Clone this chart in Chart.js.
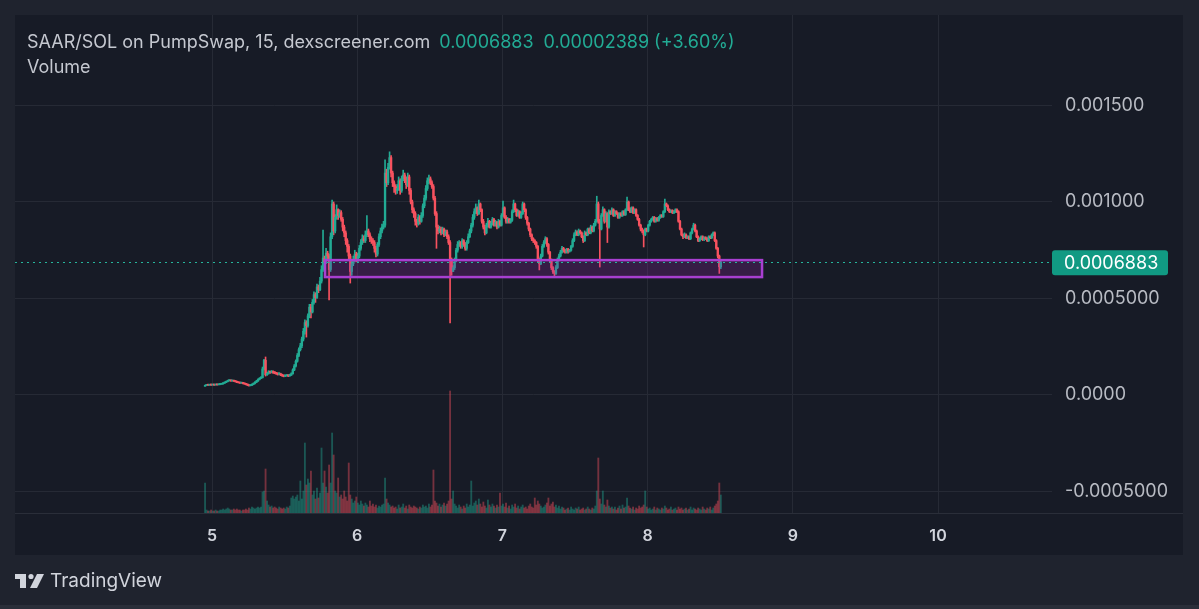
<!DOCTYPE html>
<html lang="en">
<head>
<meta charset="UTF-8">
<title>SAAR/SOL on PumpSwap</title>
<script src="https://cdn.jsdelivr.net/npm/chart.js"></script>
<style>
  html, body { margin: 0; padding: 0; background: #1f232e; }
  canvas { display: block; }
</style>
</head>
<body>
<canvas id="chart" width="1199" height="609"></canvas>
<script>
// 15 minute candles; prices are listed in millionths of SOL
const PRICE_UNIT = 1e-6;
const firstCandleDay = 4.952;
const candleStep = 1 / 96;
const firstOpen = 50;

const closes = [
  50,52,51,53,52,53,52,54,53,55,
  56,58,62,66,70,74,76,73,75,72,
  70,66,64,62,63,60,58,55,52,49,
  50,55,60,66,72,80,86,90,135,180,
  105,112,120,118,122,117,115,112,108,110,
  104,100,98,100,101,99,103,110,130,150,
  175,205,235,255,290,330,375,360,410,455,
  430,480,520,505,560,545,590,650,710,690,
  735,720,650,820,990,850,920,960,930,945,
  910,870,840,800,770,720,640,680,700,730,
  700,720,760,790,810,800,830,850,830,810,
  800,790,760,730,780,820,850,870,880,1150,
  1100,1180,1230,1150,1100,1080,1060,1070,1110,1060,
  1120,1140,1120,1090,1130,1060,1000,960,940,900,
  890,920,900,930,980,1020,1070,1110,1120,1100,
  1080,1020,940,870,850,860,840,860,830,845,
  820,790,700,640,660,700,750,780,790,770,
  800,780,760,790,820,850,880,920,950,970,
  940,990,960,900,870,840,880,900,870,890,
  910,880,895,870,900,880,930,970,920,900,
  910,895,905,950,990,960,930,950,920,940,
  990,960,920,890,860,830,810,800,790,770,
  700,680,720,770,790,810,780,740,700,660,
  640,630,660,700,720,740,760,750,740,755,
  745,750,770,800,830,845,830,850,840,820,
  800,840,830,860,840,870,850,880,900,990,
  900,860,930,960,900,940,870,950,940,960,
  930,950,940,920,940,930,950,935,960,1000,
  960,950,970,945,960,930,910,880,860,850,
  830,860,850,880,900,910,920,900,915,905,
  920,930,925,950,990,980,960,950,955,945,
  950,960,950,900,860,830,820,830,815,820,
  810,840,860,880,850,820,800,810,820,805,
  815,810,800,820,815,830,840,800,760,720,
  664.4,688.3
];

const highs = [
  52,54,53,55,54,55,54,56,55,57,
  58,60,64,68,72,77,79,78,77,76,
  74,72,68,66,65,65,62,60,57,54,
  53,58,63,69,76,84,90,95,145,185,
  197,118,126,124,127,125,121,118,115,116,
  113,108,104,104,106,105,108,115,136,158,
  182,215,245,268,300,345,390,385,420,470,
  470,495,535,530,575,570,610,670,855,720,
  760,745,730,840,1010,1000,935,985,965,960,
  955,920,880,850,810,780,730,700,720,750,
  740,735,775,805,830,825,850,930,860,840,
  820,810,800,770,790,835,865,885,900,1218,
  1170,1200,1260,1240,1160,1110,1090,1090,1130,1120,
  1135,1165,1150,1130,1150,1140,1070,1010,970,950,
  910,935,930,945,990,1035,1085,1125,1140,1130,
  1110,1090,1030,950,880,875,870,870,865,855,
  855,830,800,710,670,710,760,795,800,795,
  810,805,790,800,835,860,890,935,965,990,
  975,1010,995,965,910,880,890,915,905,900,
  920,915,905,900,910,905,940,1005,975,930,
  920,915,915,960,1010,995,965,960,955,950,
  1000,995,965,925,895,865,835,815,805,795,
  775,710,730,780,800,820,815,785,745,705,
  665,645,670,710,730,750,770,765,755,760,
  760,755,775,810,840,855,850,860,855,845,
  825,850,845,865,865,880,875,890,910,1030,
  1000,910,940,975,965,950,945,960,955,970,
  965,955,955,945,945,945,955,955,965,1025,
  1005,970,975,975,965,965,935,915,885,865,
  855,865,865,885,905,915,925,925,920,920,
  925,935,935,955,1015,995,985,965,960,960,
  955,965,965,955,905,865,835,840,835,825,
  825,845,865,890,885,855,825,815,825,825,
  820,820,815,825,825,835,845,845,805,765,
  725,695
];

const lows = [
  47,49,49,50,50,51,50,51,51,52,
  53,55,56,60,64,68,72,71,71,70,
  67,64,62,60,60,58,55,52,48,46,
  47,49,53,58,64,70,78,84,88,130,
  98,102,108,112,114,112,110,106,103,104,
  100,96,94,95,97,95,97,101,108,126,
  145,170,198,228,245,280,315,300,352,400,
  400,425,470,480,500,530,540,580,640,660,
  680,700,492,640,810,830,840,910,910,920,
  900,850,820,780,740,700,580,620,670,690,
  690,690,710,750,780,790,790,820,820,795,
  785,775,740,715,720,770,810,840,860,870,
  1080,1090,1170,1130,1080,1050,1040,1045,1060,1040,
  1050,1110,1100,1070,1080,1040,990,945,920,880,
  870,880,885,895,920,970,1010,1060,1095,1090,
  1070,1010,930,760,835,840,830,835,820,825,
  810,780,373,620,640,650,690,740,770,760,
  760,770,750,750,785,815,840,870,910,940,
  930,935,950,890,860,830,835,870,865,865,
  880,875,875,860,865,875,875,925,915,890,
  890,890,890,900,945,950,925,925,915,915,
  935,950,910,880,850,820,800,790,780,760,
  690,648,675,715,765,785,770,730,690,650,
  630,615,625,655,695,715,735,740,735,735,
  735,740,745,765,795,825,825,825,835,815,
  790,795,825,825,835,835,845,845,875,895,
  890,663,855,925,890,895,790,865,935,935,
  925,925,935,915,915,925,925,930,930,955,
  955,945,945,940,940,925,905,875,850,840,
  767,825,845,845,875,895,905,895,895,900,
  900,915,920,920,945,975,955,945,945,940,
  940,945,945,895,855,825,810,815,810,810,
  805,805,835,855,845,815,795,795,805,800,
  800,805,795,795,810,810,825,795,755,710,
  630,655
];

// relative traded volume per candle
const volumes = [
  30,3,2,2,3,2,2,3,2,2,
  3,3,4,3,4,5,4,3,3,4,
  3,4,3,3,2,3,3,4,3,5,
  4,6,5,4,5,6,5,6,21,22,
  44,12,8,6,7,5,6,5,4,6,
  5,4,5,4,6,5,7,15,17,14,
  16,18,12,32,14,22,70,28,34,30,
  42,18,22,14,25,15,20,65,30,42,
  26,20,48,30,80,58,22,20,35,16,
  18,14,22,16,12,50,18,14,10,12,
  16,10,8,12,9,7,10,8,6,12,
  7,9,6,8,5,7,6,8,9,35,
  14,10,8,6,7,5,6,4,8,5,
  6,9,5,7,4,8,6,5,7,6,
  5,4,6,5,8,6,7,5,9,6,
  8,43,12,10,7,9,6,8,10,7,
  9,12,122,14,22,9,7,5,8,6,
  4,7,5,9,6,8,32,7,10,12,
  8,14,9,6,11,7,5,13,8,6,
  9,7,5,8,6,20,7,9,6,10,
  5,7,4,8,6,9,5,7,4,6,
  8,5,6,4,7,9,6,5,15,8,
  12,9,7,5,6,8,10,15,7,9,
  11,6,8,5,7,4,6,5,3,4,
  5,3,6,4,3,5,4,6,3,4,
  5,3,4,6,4,3,5,4,7,22,
  55,14,9,22,8,6,13,7,5,6,
  4,6,3,5,7,4,8,5,6,15,
  7,5,4,6,3,5,4,7,5,6,
  8,22,6,4,5,3,4,6,3,5,
  4,3,5,4,7,5,3,4,6,3,
  4,5,3,6,4,5,3,4,5,3,
  4,6,3,5,4,3,5,4,3,6,
  4,3,5,4,6,3,5,7,9,12,
  30,18
];

const dayTicks = [5, 6, 7, 8, 9, 10];
const priceTicks = [-0.0005, 0, 0.0005, 0.001, 0.0015];
const priceTickLabels = ['-0.0005000', '0.0000', '0.0005000', '0.001000', '0.001500'];

// support zone drawn on the chart (days, millionths of SOL)
const zoneFrom = 5.778;
const zoneTo = 8.788;
const zoneLow = 611;
const zoneHigh = 699;

const titleText = 'SAAR/SOL on PumpSwap, 15, dexscreener.com';
const lastPriceText = '0.0006883';
const changeText = '0.00002389 (+3.60%)';

const UP = '#22ab94';
const DOWN = '#f7525f';

const opens = closes.map((c, i) => i === 0 ? firstOpen : closes[i - 1]);
const times = closes.map((c, i) => firstCandleDay + i * candleStep);
const candleColors = closes.map((c, i) => c >= opens[i] ? UP : DOWN);
const volColors = closes.map((c, i) => c >= opens[i] ? 'rgba(34,171,148,0.42)' : 'rgba(247,82,95,0.42)');

const wickData = times.map((t, i) => ({
    x: t,
    y: [Math.min(lows[i], opens[i], closes[i]) * PRICE_UNIT, Math.max(highs[i], opens[i], closes[i]) * PRICE_UNIT]
}));
const bodyData = times.map((t, i) => ({ x: t, y: [opens[i] * PRICE_UNIT, closes[i] * PRICE_UNIT] }));
const volData = times.map((t, i) => ({ x: t, y: volumes[i] }));

const FONT = 'Inter, Roboto, "Noto Sans", sans-serif';

// no extra label padding: the plot area is set by layout padding alone
function noScalePadding(s) {
    s.paddingTop = 0;
    s.paddingBottom = 0;
    s.paddingLeft = 0;
    s.paddingRight = 0;
}

const chartFrame = {
    id: 'chartFrame',
    beforeDraw(chart) {
        const c = chart.ctx;
        const W = chart.width, H = chart.height;
        c.save();
        c.fillStyle = '#1f232e';
        c.fillRect(0, 0, W, H);
        c.fillStyle = '#171b26';
        c.fillRect(15, 15, 1168, 540);
        c.fillStyle = '#2a2e39';
        c.fillRect(0, 605, W, 4);
        c.restore();
    },
    afterDatasetsDraw(chart) {
        const c = chart.ctx;
        const x = chart.scales.x, y = chart.scales.y;
        const area = chart.chartArea;
        const x0 = x.getPixelForValue(zoneFrom), x1 = x.getPixelForValue(zoneTo);
        const y0 = y.getPixelForValue(zoneHigh * PRICE_UNIT), y1 = y.getPixelForValue(zoneLow * PRICE_UNIT);
        c.save();
        c.fillStyle = 'rgba(156,39,176,0.24)';
        c.fillRect(x0, y0, x1 - x0, y1 - y0);
        c.strokeStyle = '#a83fd1';
        c.lineWidth = 2.5;
        c.strokeRect(x0, y0, x1 - x0, y1 - y0);

        // last price line
        const lastY = Math.round(y.getPixelForValue(closes[closes.length - 1] * PRICE_UNIT)) + 0.5;
        c.strokeStyle = '#26b59c';
        c.lineWidth = 1;
        c.setLineDash([2, 4]);
        c.beginPath();
        c.moveTo(area.left, lastY);
        c.lineTo(area.right, lastY);
        c.stroke();
        c.restore();
    },
    afterDraw(chart) {
        const c = chart.ctx;
        const area = chart.chartArea;
        const y = chart.scales.y;
        c.save();
        // separator under the plot
        c.fillStyle = '#2a2e39';
        c.fillRect(15, area.bottom, 1168, 1);

        // last price label
        const lastY = y.getPixelForValue(closes[closes.length - 1] * PRICE_UNIT);
        c.fillStyle = '#119a83';
        c.beginPath();
        c.roundRect(area.right, lastY - 12, 116, 25, 3);
        c.fill();
        c.fillStyle = '#ffffff';
        c.font = '18px ' + FONT;
        c.textBaseline = 'middle';
        c.fillText(lastPriceText, area.right + 12, lastY + 1);

        // legend text
        c.font = '18px ' + FONT;
        c.fillStyle = '#c5c8d0';
        c.fillText(titleText, 27, 43);
        let tx = 27 + c.measureText(titleText).width + 9;
        c.fillStyle = UP;
        c.fillText(lastPriceText, tx, 43);
        tx += c.measureText(lastPriceText).width + 10;
        c.fillText(changeText, tx, 43);
        c.fillStyle = '#c5c8d0';
        c.fillText('Volume', 27, 68);

        // TradingView mark
        c.fillStyle = '#d1d4dc';
        c.fillRect(15, 574, 11, 5);
        c.fillRect(20, 574, 6, 14);
        c.beginPath();
        c.arc(31, 576.5, 2.6, 0, Math.PI * 2);
        c.fill();
        c.beginPath();
        c.moveTo(37, 574);
        c.lineTo(44, 574);
        c.lineTo(37, 588);
        c.lineTo(30, 588);
        c.closePath();
        c.fill();
        c.font = '19px ' + FONT;
        c.fillText('TradingView', 50, 581);
        c.restore();
    }
};

new Chart(document.getElementById('chart').getContext('2d'), {
    type: 'bar',
    data: {
        datasets: [
            { data: volData, yAxisID: 'vol', backgroundColor: volColors, barThickness: 1.2, order: 3 },
            { data: wickData, yAxisID: 'y', backgroundColor: candleColors, barThickness: 1, order: 2 },
            { data: bodyData, yAxisID: 'y', backgroundColor: candleColors, barThickness: 1.7, minBarLength: 1, order: 1 }
        ]
    },
    options: {
        responsive: false,
        animation: false,
        layout: { padding: { left: 15, top: 15, right: 16, bottom: 54 } },
        datasets: { bar: { grouped: false } },
        plugins: { legend: { display: false }, tooltip: { enabled: false } },
        scales: {
            x: {
                type: 'linear',
                min: 3.643,
                max: 10.785,
                offset: false,
                afterBuildTicks: s => { s.ticks = dayTicks.map(v => ({ value: v })); },
                afterFit: s => { s.height = 42; noScalePadding(s); },
                grid: { color: '#262a35', drawTicks: false, offset: false },
                border: { display: false },
                ticks: {
                    padding: 14,
                    color: '#d1d4dc',
                    font: { family: FONT, size: 16, weight: '600' },
                    maxRotation: 0,
                    callback: v => String(v)
                }
            },
            y: {
                position: 'right',
                min: -0.0006114,
                max: 0.0019689,
                afterBuildTicks: s => { s.ticks = priceTicks.map(v => ({ value: v })); },
                afterFit: s => { s.width = 131; noScalePadding(s); },
                grid: { color: '#262a35', drawTicks: false },
                border: { display: false },
                ticks: {
                    padding: 13,
                    color: '#b8bbc3',
                    font: { family: FONT, size: 18 },
                    callback: (v, i) => priceTickLabels[i]
                }
            },
            vol: { display: false, min: 0, max: 498 }
        }
    },
    plugins: [chartFrame]
});
</script>
</body>
</html>
